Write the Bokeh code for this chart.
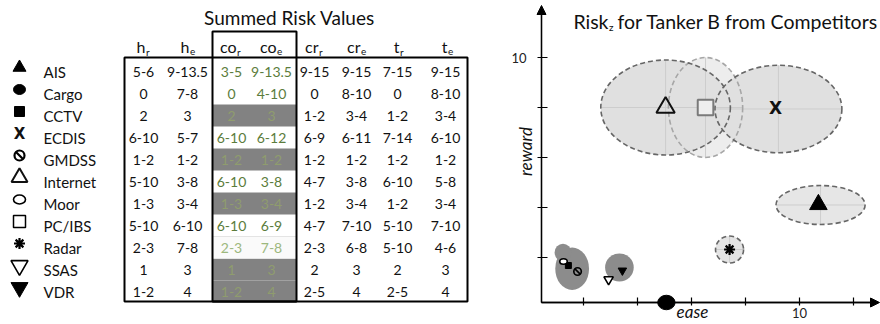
import math
from bokeh.plotting import figure
from bokeh.layouts import row
from bokeh.models import Range1d, LinearAxis, FixedTicker, Arrow, NormalHead
from bokeh.core.properties import value
from bokeh.embed import file_html
from bokeh.resources import INLINE

FONT = "Lato"

# ---------------- table data ----------------
components = ["AIS", "Cargo", "CCTV", "ECDIS", "GMDSS", "Internet", "Moor", "PC/IBS", "Radar", "SSAS", "VDR"]
h_r = ["5-6", "0", "2", "6-10", "1-2", "5-10", "1-3", "5-10", "2-3", "1", "1-2"]
h_e = ["9-13.5", "7-8", "3", "5-7", "1-2", "3-8", "3-4", "6-10", "7-8", "3", "4"]
co_r = ["3-5", "0", "2", "6-10", "1-2", "6-10", "1-3", "6-10", "2-3", "1", "1-2"]
co_e = ["9-13.5", "4-10", "3", "6-12", "1-2", "3-8", "3-4", "6-9", "7-8", "3", "4"]
cr_r = ["9-15", "0", "1-2", "6-9", "1-2", "4-7", "1-2", "4-7", "2-3", "2", "2-5"]
cr_e = ["9-15", "8-10", "3-4", "6-11", "1-2", "3-8", "3-4", "7-10", "6-8", "3", "4"]
t_r = ["7-15", "0", "1-2", "7-14", "1-2", "6-10", "1-2", "5-10", "5-10", "2", "2-5"]
t_e = ["9-15", "8-10", "3-4", "6-10", "1-2", "5-8", "3-4", "7-10", "4-6", "3", "4"]
co_hidden = [False, False, True, False, True, False, True, False, False, True, True]
co_faint = [False, False, False, False, False, False, False, False, True, False, False]
col_main = ["h", "h", "co", "co", "cr", "cr", "t", "t"]
col_sub = ["r", "e", "r", "e", "r", "e", "r", "e"]
table_title = "Summed Risk Values"

# ---------------- chart data (axis units) ----------------
zone_names = ["PC/IBS", "Internet", "ECDIS", "AIS", "Radar"]
zone_ease = [6.52, 5.04, 9.22, 10.78, 7.41]
zone_reward = [8.0, 8.0, 7.94, 4.1, 2.32]
zone_ease_span = [2.75, 4.8, 4.7, 3.3, 1.04]
zone_reward_span = [4.0, 3.8, 3.5, 1.56, 1.08]
blob_ease = [1.58, 1.24, 3.33]
blob_reward = [1.55, 2.2, 1.6]
blob_ease_span = [1.25, 0.62, 1.06]
blob_reward_span = [1.7, 0.7, 1.12]
point_names = ["AIS", "Cargo", "CCTV", "ECDIS", "GMDSS", "Internet", "Moor", "PC/IBS", "Radar", "SSAS", "VDR"]
point_ease = [10.70, 5.07, 1.44, 9.11, 1.78, 5.04, 1.26, 6.52, 7.41, 2.93, 3.44]
point_reward = [4.12, 0.2, 1.68, 8.0, 1.44, 8.0, 1.84, 8.0, 2.32, 1.12, 1.48]
x_ticks = [2, 4, 6, 8, 10, 12]
y_ticks = [2, 4, 6, 8, 10]
labeled_tick = 10
chart_title_a, chart_title_sub, chart_title_b = "Risk", "z", "for Tanker B from Competitors"
x_label, y_label = "ease", "reward"

# ---------------- layout constants ----------------
W1, W2, H = 498, 382, 324
PAD = 0


def draw_marker(fig, name, x, y, s, ux, uy, chart=False):
    """ux, uy: data units per screen pixel (uy signed: upward)."""
    ay = abs(uy)
    if name == "AIS":
        fig.scatter([x], [y], marker="triangle", size=13 * s, fill_color="black", line_color="black")
    elif name == "Cargo":
        fig.ellipse([x], [y], width=12 * s * ux, height=10 * s * ay, fill_color="black", line_color="black")
    elif name == "CCTV":
        fig.scatter([x], [y], marker="square", size=10 * s, fill_color="black", line_color="black")
    elif name == "ECDIS":
        fig.text([x], [y], text=["X"], text_align="center", text_baseline="middle",
                 text_font=value("DejaVu Sans"), text_font_style="bold",
                 text_font_size=f"{15 * s:.0f}px", text_color="#111111")
    elif name == "GMDSS":
        r = 5 * s
        fig.scatter([x], [y], marker="circle", size=2 * r, fill_color=None, line_color="black",
                    line_width=2.2 * min(s, 1.0))
        fig.segment([x - 0.7 * r * ux], [y + 0.7 * r * uy], [x + 0.7 * r * ux], [y - 0.7 * r * uy],
                    line_color="black", line_width=2.2 * min(s, 1.0))
    elif name == "Internet":
        fig.scatter([x], [y], marker="triangle", size=16 * s, fill_color="white" if not chart else None,
                    line_color="#111111", line_width=2.0)
    elif name == "Moor":
        fig.ellipse([x], [y], width=12 * s * ux, height=9 * s * ay, fill_color="white",
                    line_color="black", line_width=1.6)
    elif name == "PC/IBS":
        if chart:
            fig.scatter([x], [y], marker="square", size=12 * s, fill_color="#eeeeee", line_color="#7a7a7a",
                        line_width=2)
        else:
            fig.scatter([x], [y], marker="square", size=12 * s, fill_color="white", line_color="black",
                        line_width=1.5)
    elif name == "Radar":
        fig.scatter([x], [y], marker="asterisk", size=11 * s, line_color="black", line_width=2.2)
    elif name == "SSAS":
        fig.scatter([x], [y], marker="inverted_triangle", size=17 * s, fill_color="white",
                    line_color="black", line_width=1.6)
    elif name == "VDR":
        fig.scatter([x], [y], marker="inverted_triangle", size=17 * s, fill_color="black",
                    line_color="black")


# ======================= TABLE =======================
t = figure(width=W1, height=H, x_range=Range1d(PAD, PAD + W1), y_range=Range1d(PAD + H, PAD),
           output_backend="svg", toolbar_location=None, x_axis_location=None, y_axis_location=None,
           min_border=0, outline_line_color=None)
t.grid.visible = False

ROW_TOP, ROW_STEP = 71, 22
row_y = [ROW_TOP + ROW_STEP * i for i in range(len(components))]
col_x = [143, 187, 231, 271, 314, 356, 397, 445]
sub_off = [2, 2, 5, 5, 4, 4, 2, 2]
CO_L, CO_R = 212, 296
TB_L, TB_R, TB_T, TB_B = 124, 467, 57, 301
BOX_T = 31

# grey cells in the co columns
gy = [row_y[i] for i in range(len(components)) if co_hidden[i]]
t.quad(left=CO_L, right=CO_R, top=[v - 11 for v in gy], bottom=[v + 11 for v in gy],
       fill_color="#828282", line_color=None)
fy = [row_y[i] for i in range(len(components)) if co_faint[i]]
t.quad(left=CO_L, right=CO_R, top=[v - 11 for v in fy], bottom=[v + 11 for v in fy],
       fill_color="#fafafa", line_color="#e4e4e4", line_width=1)

# borders
t.quad(left=[TB_L], right=[TB_R], top=[TB_T], bottom=[TB_B], fill_color=None, line_color="black", line_width=2)
t.quad(left=[CO_L], right=[CO_R], top=[BOX_T], bottom=[TB_B], fill_color=None, line_color="black", line_width=2)

# title
t.text([289], [17], text=[table_title], text_align="center", text_baseline="middle",
       text_font=value(FONT), text_font_size="19px", text_color="#111111")

# headers
for j in range(8):
    xm = col_x[j] + sub_off[j]
    t.text([xm], [46], text=[col_main[j]], text_align="right", text_baseline="middle",
           text_font=value(FONT), text_font_size="16px", text_color="#111111")
    t.text([xm + 0.5], [51], text=[col_sub[j]], text_align="left", text_baseline="middle",
           text_font=value(FONT), text_font_size="10px", text_color="#111111")

# values
columns = [h_r, h_e, co_r, co_e, cr_r, cr_e, t_r, t_e]
for j, col in enumerate(columns):
    if j in (2, 3):
        colors = ["#8f9c6e" if co_hidden[i] else ("#9db87e" if co_faint[i] else "#5b7c3c")
                  for i in range(len(col))]
    else:
        colors = ["#111111"] * len(col)
    t.text([col_x[j]] * len(col), row_y, text=col, text_align="center", text_baseline="middle",
           text_font=value(FONT), text_font_size="14px", text_color=colors)

# legend column
t.text([43] * len(components), row_y, text=components, text_align="left", text_baseline="middle",
       text_font=value(FONT), text_font_size="15px", text_color="#111111")
for i, name in enumerate(components):
    draw_marker(t, name, 19, row_y[i] - 4, 1.0, 1.0, -1.0)

# ======================= CHART =======================
PXU, PYU = 27.0, 25.0          # pixels per axis unit
REF_PX, REF_PY = 799, 57       # image position of the (10, 10) ticks
IMG_L, IMG_T = W1 + PAD, PAD


def dx(px):
    return 10 + (px - REF_PX) / PXU


def dy(py):
    return 10 + (REF_PY - py) / PYU


c = figure(width=W2, height=H, x_range=Range1d(dx(IMG_L), dx(IMG_L + W2)),
           y_range=Range1d(dy(IMG_T + H), dy(IMG_T)),
           output_backend="svg", toolbar_location=None, x_axis_location=None, y_axis_location=None,
           min_border=0, outline_line_color=None)
c.grid.visible = False

X0, Y0 = dx(541), dy(302)

# zones: fills
zone_fill = {"PC/IBS": "#ededed", "Internet": "#e0e0e0", "ECDIS": "#e0e0e0", "AIS": "#e6e6e6", "Radar": "#e4e4e4"}
c.ellipse(zone_ease, zone_reward, width=zone_ease_span, height=zone_reward_span,
          fill_color=[zone_fill[n] for n in zone_names], line_color=None)
# crosshairs
c.segment([e - w / 2 for e, w in zip(zone_ease, zone_ease_span)], zone_reward,
          [e + w / 2 for e, w in zip(zone_ease, zone_ease_span)], zone_reward,
          line_color="#cdcdcd", line_width=1)
c.segment(zone_ease, [r - h / 2 for r, h in zip(zone_reward, zone_reward_span)],
          zone_ease, [r + h / 2 for r, h in zip(zone_reward, zone_reward_span)],
          line_color="#cdcdcd", line_width=1)
# outlines
c.ellipse(zone_ease, zone_reward, width=zone_ease_span, height=zone_reward_span, fill_color=None,
          line_color=["#a6a6a6" if n == "PC/IBS" else "#666666" for n in zone_names],
          line_width=1.6, line_dash="5 3")
# dark blobs
c.ellipse(blob_ease, blob_reward, width=blob_ease_span, height=blob_reward_span,
          fill_color="#8c8c8c", line_color=None)

# axes
xa = LinearAxis(fixed_location=Y0, bounds=(X0, dx(876)), ticker=FixedTicker(ticks=x_ticks),
                major_label_overrides={v: ("" if v != labeled_tick else str(v)) for v in x_ticks},
                major_tick_in=5, major_tick_out=3, major_label_standoff=2, minor_tick_line_color=None,
                axis_line_width=1.3, major_tick_line_width=1.2,
                major_label_text_font=FONT, major_label_text_font_size="13px", major_label_text_color="#222222")
c.add_layout(xa, "below")
ya = LinearAxis(fixed_location=X0, bounds=(Y0, dy(10)), ticker=FixedTicker(ticks=y_ticks),
                major_label_overrides={v: ("" if v != labeled_tick else str(v)) for v in y_ticks},
                major_tick_in=6, major_tick_out=4, major_label_standoff=11, minor_tick_line_color=None,
                axis_line_width=1.3, major_tick_line_width=1.2,
                major_label_text_font=FONT, major_label_text_font_size="13px", major_label_text_color="#222222")
c.add_layout(ya, "left")
c.add_layout(Arrow(end=NormalHead(size=9, fill_color="black", line_color="black"),
                   x_start=X0, y_start=Y0, x_end=X0, y_end=dy(5), line_width=1.3))
c.add_layout(Arrow(end=NormalHead(size=9, fill_color="black", line_color="black"),
                   x_start=X0, y_start=Y0, x_end=dx(879), y_end=Y0, line_width=1.3))

# points
chart_scale = {"AIS": 1.35, "Cargo": 1.45, "CCTV": 0.6, "ECDIS": 1.15, "GMDSS": 0.75, "Internet": 1.15,
               "Moor": 0.62, "PC/IBS": 1.3, "Radar": 1.0, "SSAS": 0.55, "VDR": 0.5}
for name, e, r in zip(point_names, point_ease, point_reward):
    draw_marker(c, name, e, r, chart_scale[name], 1 / PXU, 1 / PYU, chart=True)

# titles / labels
c.text([dx(608)], [dy(21)], text=[chart_title_a], text_align="right", text_baseline="middle",
       text_font=value(FONT), text_font_size="19.5px", text_color="#111111")
c.text([dx(608.5)], [dy(26)], text=[chart_title_sub], text_align="left", text_baseline="middle",
       text_font=value(FONT), text_font_size="10px", text_color="#111111")
c.text([dx(617)], [dy(21)], text=[chart_title_b], text_align="left", text_baseline="middle",
       text_font=value(FONT), text_font_size="19.5px", text_color="#111111")
c.text([dx(692)], [dy(311)], text=[x_label], text_align="center", text_baseline="middle",
       text_font=value(FONT), text_font_size="17px", text_font_style="italic", text_color="#111111")
c.text([dx(525)], [dy(151)], text=[y_label], text_align="center", text_baseline="middle", angle=math.pi / 2,
       text_font=value(FONT), text_font_size="17px", text_font_style="italic", text_color="#111111")

layout = row(t, c)
open("out.html", "w").write(file_html(layout, INLINE))
